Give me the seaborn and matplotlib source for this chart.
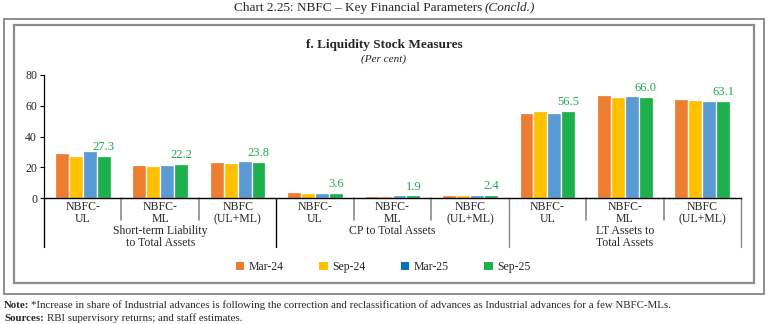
import matplotlib
matplotlib.use("Agg")
import matplotlib.pyplot as plt
import matplotlib.transforms as mtransforms
from matplotlib.patches import Rectangle, Patch
import seaborn as sns
import pandas as pd

# ---------------- data ----------------
categories = ["STL-UL", "STL-ML", "STL-ALL",
              "CP-UL", "CP-ML", "CP-ALL",
              "LT-UL", "LT-ML", "LT-ALL"]
tick_labels = ["NBFC-\nUL", "NBFC-\nML", "NBFC\n(UL+ML)"] * 3
group_labels = ["Short-term Liability\nto Total Assets",
                "CP to Total Assets",
                "LT Assets to\nTotal Assets"]
periods = ["Mar-24", "Sep-24", "Mar-25", "Sep-25"]
mar24 = [29.2, 21.6, 23.6, 3.9, 1.7, 2.2, 55.6, 67.1, 64.3]
sep24 = [27.4, 21.2, 22.7, 3.5, 1.5, 2.2, 56.7, 66.0, 63.6]
mar25 = [30.9, 21.6, 24.4, 3.5, 1.9, 2.4, 55.2, 66.6, 63.2]
sep25 = [27.3, 22.2, 23.8, 3.6, 1.9, 2.4, 56.5, 66.0, 63.1]

bar_colors = ["#ED7D31", "#FFC000", "#5B9BD5", "#1FB04E"]
legend_colors = ["#ED7D31", "#FFC000", "#0070C0", "#1FB04E"]
label_color = "#22A94C"

rows = []
for p, vals in zip(periods, [mar24, sep24, mar25, sep25]):
    for c, v in zip(categories, vals):
        rows.append({"cat": c, "period": p, "value": v})
df = pd.DataFrame(rows)

# ---------------- figure ----------------
sns.set_style("white")
plt.rcParams["font.family"] = ["Liberation Serif", "DejaVu Serif"]

W, H = 769, 324
fig = plt.figure(figsize=(W / 100, H / 100), dpi=100)

def fx(px):
    return px / W

def fy(py):
    return 1 - py / H

# frames
fig.add_artist(Rectangle((fx(4), fy(294)), fx(760), 275 / H,
                         transform=fig.transFigure, fill=False,
                         edgecolor="#8c8c8c", lw=1.4))
fig.add_artist(Rectangle((fx(14), fy(283)), fx(740), 258 / H,
                         transform=fig.transFigure, fill=False,
                         edgecolor="#8c8c8c", lw=1.6))

ax_left, ax_right, ax_top, ax_bot = 44, 741, 75, 198.3
ax = fig.add_axes([fx(ax_left), fy(ax_bot), fx(ax_right - ax_left),
                   (ax_bot - ax_top) / H])

sns.barplot(data=df, x="cat", y="value", hue="period", order=categories,
            hue_order=periods, palette=bar_colors, saturation=1, width=0.72,
            edgecolor="white", linewidth=0.9, legend=False, ax=ax)

ax.set_xlim(-0.5, 8.5)
ax.set_ylim(0, 80)
ax.set_yticks([0, 20, 40, 60, 80])
ax.tick_params(axis="y", which="both", left=True, length=3, width=0.8,
               labelsize=8.5, pad=2, color="black")
ax.tick_params(axis="x", bottom=False, labelbottom=False)
ax.set_xlabel("")
ax.set_ylabel("")
for s in ["top", "right"]:
    ax.spines[s].set_visible(False)
ax.spines["left"].set_color("black")
ax.spines["left"].set_linewidth(0.9)
ax.spines["bottom"].set_color("black")
ax.spines["bottom"].set_linewidth(1.0)

# data labels for last series
ax.bar_label(ax.containers[3], fmt="%.1f", color=label_color, fontsize=9,
             padding=2)

# multi-level x axis
trans = mtransforms.blended_transform_factory(ax.transData, ax.transAxes)
axh = ax_bot - ax_top
sub_depth = -(220 - ax_bot) / axh
grp_depth = -(247 - ax_bot) / axh
for i, lab in enumerate(tick_labels):
    ax.text(i, -(200.5 - ax_bot) / axh, lab, transform=trans,
            ha="center", va="top", fontsize=8.5, linespacing=1.05)
for g in range(3):
    for k in (0.5, 1.5):
        xpos = g * 3 + k
        ax.plot([xpos, xpos], [0, sub_depth], transform=trans,
                color="#8a8a8a", lw=1.2, clip_on=False)
    ax.text(g * 3 + 1, -(225 - ax_bot) / axh, group_labels[g],
            transform=trans, ha="center", va="top", fontsize=8.5,
            linespacing=1.05)
for xb, col in zip([-0.5, 2.5, 5.5, 8.5], ["black", "black", "#8a8a8a", "#8a8a8a"]):
    ax.plot([xb, xb], [0, grp_depth], transform=trans, color=col, lw=1.0,
            clip_on=False)

# titles
fig.text(fx(482), fy(10.5), "Chart 2.25: NBFC \u2013 Key Financial Parameters",
         ha="right", va="baseline", fontsize=9.5)
fig.text(fx(485), fy(10.5), "(Concld.)", ha="left", va="baseline",
         fontsize=9.5, style="italic")
fig.text(fx(384), fy(45), "f. Liquidity Stock Measures", ha="center",
         va="center", fontsize=9.5, fontweight="bold")
fig.text(fx(384), fy(59), "(Per cent)", ha="center", va="center",
         fontsize=8, style="italic")

# legend
handles = [Patch(facecolor=c, edgecolor="none", label=p)
           for c, p in zip(legend_colors, periods)]
fig.legend(handles=handles, loc="center", bbox_to_anchor=(fx(383), fy(267)),
           ncol=4, frameon=False, fontsize=8.5, handlelength=0.75,
           handleheight=0.75, handletextpad=0.35, columnspacing=3.0)

# notes
fig.text(fx(4), fy(308), "Note:", ha="left", va="baseline", fontsize=7.8,
         fontweight="bold")
fig.text(fx(31), fy(308),
         "*Increase in share of Industrial advances is following the correction and "
         "reclassification of advances as Industrial advances for a few NBFC-MLs.",
         ha="left", va="baseline", fontsize=7.8)
fig.text(fx(4), fy(321), "Sources:", ha="left", va="baseline", fontsize=7.8,
         fontweight="bold")
fig.text(fx(47), fy(321), "RBI supervisory returns; and staff estimates.",
         ha="left", va="baseline", fontsize=7.8)

fig.savefig("out.png", dpi=100)
